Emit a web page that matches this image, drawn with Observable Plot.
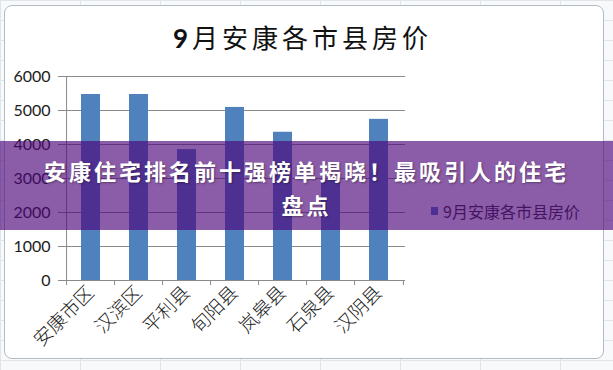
<!DOCTYPE html>
<html><head><meta charset="utf-8">
<script src="https://cdn.jsdelivr.net/npm/d3@7"></script>
<script src="https://cdn.jsdelivr.net/npm/@observablehq/plot@0.6"></script>
<style>
html,body{margin:0;padding:0;background:#f3f6f8;}
#wrap{position:relative;width:613px;height:370px;overflow:hidden;font-family:"Noto Sans CJK SC",sans-serif;
  background-image:linear-gradient(90deg,#dfe6eb 1px,transparent 1px),linear-gradient(#dfe6eb 1px,transparent 1px);
  background-size:80px 20px;background-color:#f7f9fb;}
#card{position:absolute;left:4px;top:5px;width:598px;height:352px;background:#fff;border:1px solid #b3bcc4;border-radius:8px;}
#chart{position:absolute;left:0;top:0;}
#title{position:absolute;left:-4px;width:613px;top:20px;text-align:center;font-size:26px;letter-spacing:4px;color:#111;line-height:34px;}
#title b{font-family:Lato,sans-serif;font-weight:700;}
#legend{position:absolute;left:431px;top:199px;font-size:16px;color:#333;display:flex;align-items:center;line-height:24px;}
#legend .sw{width:7px;height:8px;background:#4f81bd;margin-right:5px;}
#banner{position:absolute;left:0;top:141px;width:613px;height:89px;background:rgba(77,5,121,0.65);}
#btext{position:absolute;left:0;width:613px;top:153px;text-align:center;color:#fff;font-weight:700;font-size:22px;letter-spacing:3px;line-height:34px;text-shadow:1px 1px 2px rgba(0,0,0,.35);}
</style></head>
<body>
<div id="wrap">
  <div id="card"></div>
  <div id="chart"></div>
  <div id="title"></div>
  <div id="legend"><span class="sw"></span><span id="legtext"></span></div>
  <div id="banner"></div>
  <div id="btext"></div>
</div>
<script>
const chartTitle = "9月安康各市县房价";
const seriesName = "9月安康各市县房价";
const bannerLines = ["安康住宅排名前十强榜单揭晓！最吸引人的住宅", "盘点"];
const categories = ["安康市区", "汉滨区", "平利县", "旬阳县", "岚皋县", "石泉县", "汉阴县"];
const prices = [5470, 5470, 3850, 5090, 4360, 2950, 4740];
const yTicks = [0, 1000, 2000, 3000, 4000, 5000, 6000];

const W = 613, H = 370, ML = 63, MR = 208, MT = 76, MB = 90;
const step = (W - ML - MR) / categories.length;
const data = categories.map((c, i) => ({c, v: prices[i]}));
const grey = "#8a8a8a";

const plot = Plot.plot({
  width: W, height: H,
  marginLeft: ML, marginRight: MR, marginTop: MT, marginBottom: MB,
  style: {background: "transparent", fontFamily: "Lato, 'Noto Sans CJK SC', sans-serif", fontSize: "16px", color: "#1a1a1a"},
  x: {domain: categories, paddingInner: 0.61, paddingOuter: 0.305, label: null},
  y: {domain: [0, 6000], label: null},
  marks: [
    Plot.ruleY(yTicks, {stroke: grey, strokeWidth: 1}),
    Plot.barY(data, {x: "c", y: "v", fill: "#4f81bd"}),
    Plot.ruleX([categories[0]], {x: d => d, dx: -step / 2, y1: 0, y2: 6000, stroke: grey}),
    Plot.ruleX(categories, {x: d => d, dx: -step / 2, y1: 0, y2: -150, stroke: grey}),
    Plot.ruleX([categories[categories.length - 1]], {x: d => d, dx: step / 2, y1: 0, y2: -150, stroke: grey}),
    Plot.axisY({ticks: yTicks, tickFormat: d3.format("d"), tickSize: 5, tickPadding: 8, stroke: grey, fontSize: 16, label: null}),
    Plot.axisX({tickSize: 0, tickRotate: -45, tickPadding: 9, fontSize: 19, label: null, fontFamily: "'Noto Sans CJK SC', sans-serif", fontWeight: 300})
  ]
});
document.getElementById("chart").appendChild(plot);
document.getElementById("title").innerHTML = "<b>" + chartTitle.slice(0, 1) + "</b>" + chartTitle.slice(1);
document.getElementById("legtext").textContent = seriesName;
document.getElementById("btext").innerHTML = bannerLines.join("<br>");
</script>
</body></html>
